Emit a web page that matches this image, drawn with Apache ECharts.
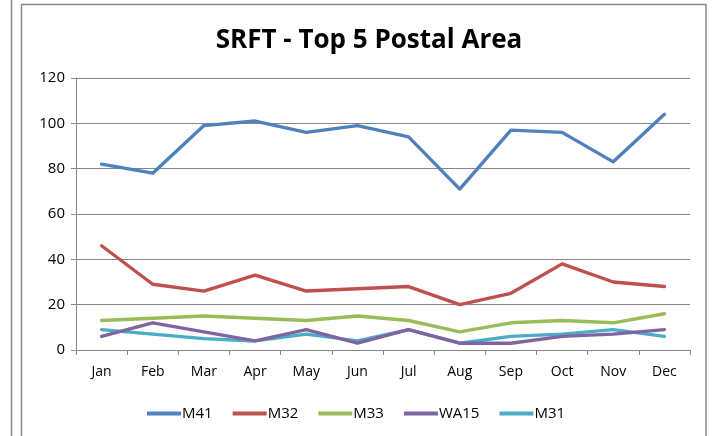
<!DOCTYPE html>
<html>
<head>
<meta charset="utf-8">
<script src="https://cdn.jsdelivr.net/npm/echarts@6/dist/echarts.min.js"></script>
<style>
  html, body { margin: 0; padding: 0; background: #fff; }
  #chart { width: 712px; height: 436px; }
</style>
</head>
<body>
<div id="chart"></div>
<script>
// Monthly SRFT counts for the five busiest postal areas
const months = ['Jan', 'Feb', 'Mar', 'Apr', 'May', 'Jun', 'Jul', 'Aug', 'Sep', 'Oct', 'Nov', 'Dec'];
const seriesNames = ['M41', 'M32', 'M33', 'WA15', 'M31'];
const m41 = [82, 78, 99, 101, 96, 99, 94, 71, 97, 96, 83, 104];
const m32 = [46, 29, 26, 33, 26, 27, 28, 20, 25, 38, 30, 28];
const m33 = [13, 14, 15, 14, 13, 15, 13, 8, 12, 13, 12, 16];
const wa15 = [6, 12, 8, 4, 9, 3, 9, 3, 3, 6, 7, 9];
const m31 = [9, 7, 5, 4, 7, 4, 9, 3, 6, 7, 9, 6];
const yTicks = { min: 0, max: 120, step: 20 };

const colors = ['#4F81BD', '#C0504D', '#9BBB59', '#8064A2', '#4BACC6'];
const values = [m41, m32, m33, wa15, m31];
const font = '"Open Sans", Calibri, sans-serif';
const axisGrey = '#868686';

const chart = echarts.init(document.getElementById('chart'));
chart.setOption({
  animation: false,
  backgroundColor: '#fff',
  color: colors,
  title: {
    text: 'SRFT - Top 5 Postal Area',
    left: 364,
    textAlign: 'center',
    top: 23,
    textStyle: { fontFamily: font, fontWeight: 'bold', fontSize: 26, color: '#000' }
  },
  legend: {
    data: seriesNames,
    left: 142,
    top: 401,
    icon: 'rect',
    itemWidth: 34,
    itemHeight: 4,
    itemGap: 20,
    textStyle: { fontFamily: font, fontSize: 15, color: '#000', padding: [0, 0, 0, -4] }
  },
  grid: { left: 76, right: 22, top: 78, bottom: 86 },
  xAxis: {
    type: 'category',
    data: months,
    boundaryGap: true,
    axisLine: { lineStyle: { color: axisGrey, width: 1 } },
    axisTick: { show: true, length: 5, alignWithLabel: false, lineStyle: { color: axisGrey } },
    axisLabel: { fontFamily: font, fontSize: 14, color: '#000', margin: 15 },
    splitLine: { show: false }
  },
  yAxis: {
    type: 'value',
    min: yTicks.min,
    max: yTicks.max,
    interval: yTicks.step,
    axisLine: { show: true, lineStyle: { color: axisGrey, width: 1 } },
    axisTick: { show: true, length: 5, lineStyle: { color: axisGrey } },
    axisLabel: { fontFamily: font, fontSize: 15, color: '#000', margin: 11 },
    splitLine: { show: true, lineStyle: { color: axisGrey, width: 1 } }
  },
  series: seriesNames.map((name, i) => ({
    name: name,
    type: 'line',
    data: values[i],
    symbol: 'none',
    lineStyle: { width: 3.4, color: colors[i], cap: 'round', join: 'round' },
    itemStyle: { color: colors[i] },
    z: 10 - i
  })),
  graphic: [
    // edge of the neighbouring panel
    { type: 'line', shape: { x1: 11.5, y1: 0, x2: 11.5, y2: 436 }, style: { stroke: '#8a8a8a', lineWidth: 1.5 }, silent: true },
    // chart frame
    { type: 'rect', shape: { x: 21.5, y: 4.5, width: 684.5, height: 440 }, style: { fill: 'none', stroke: '#8a8a8a', lineWidth: 1.5 }, silent: true }
  ]
});
</script>
</body>
</html>
